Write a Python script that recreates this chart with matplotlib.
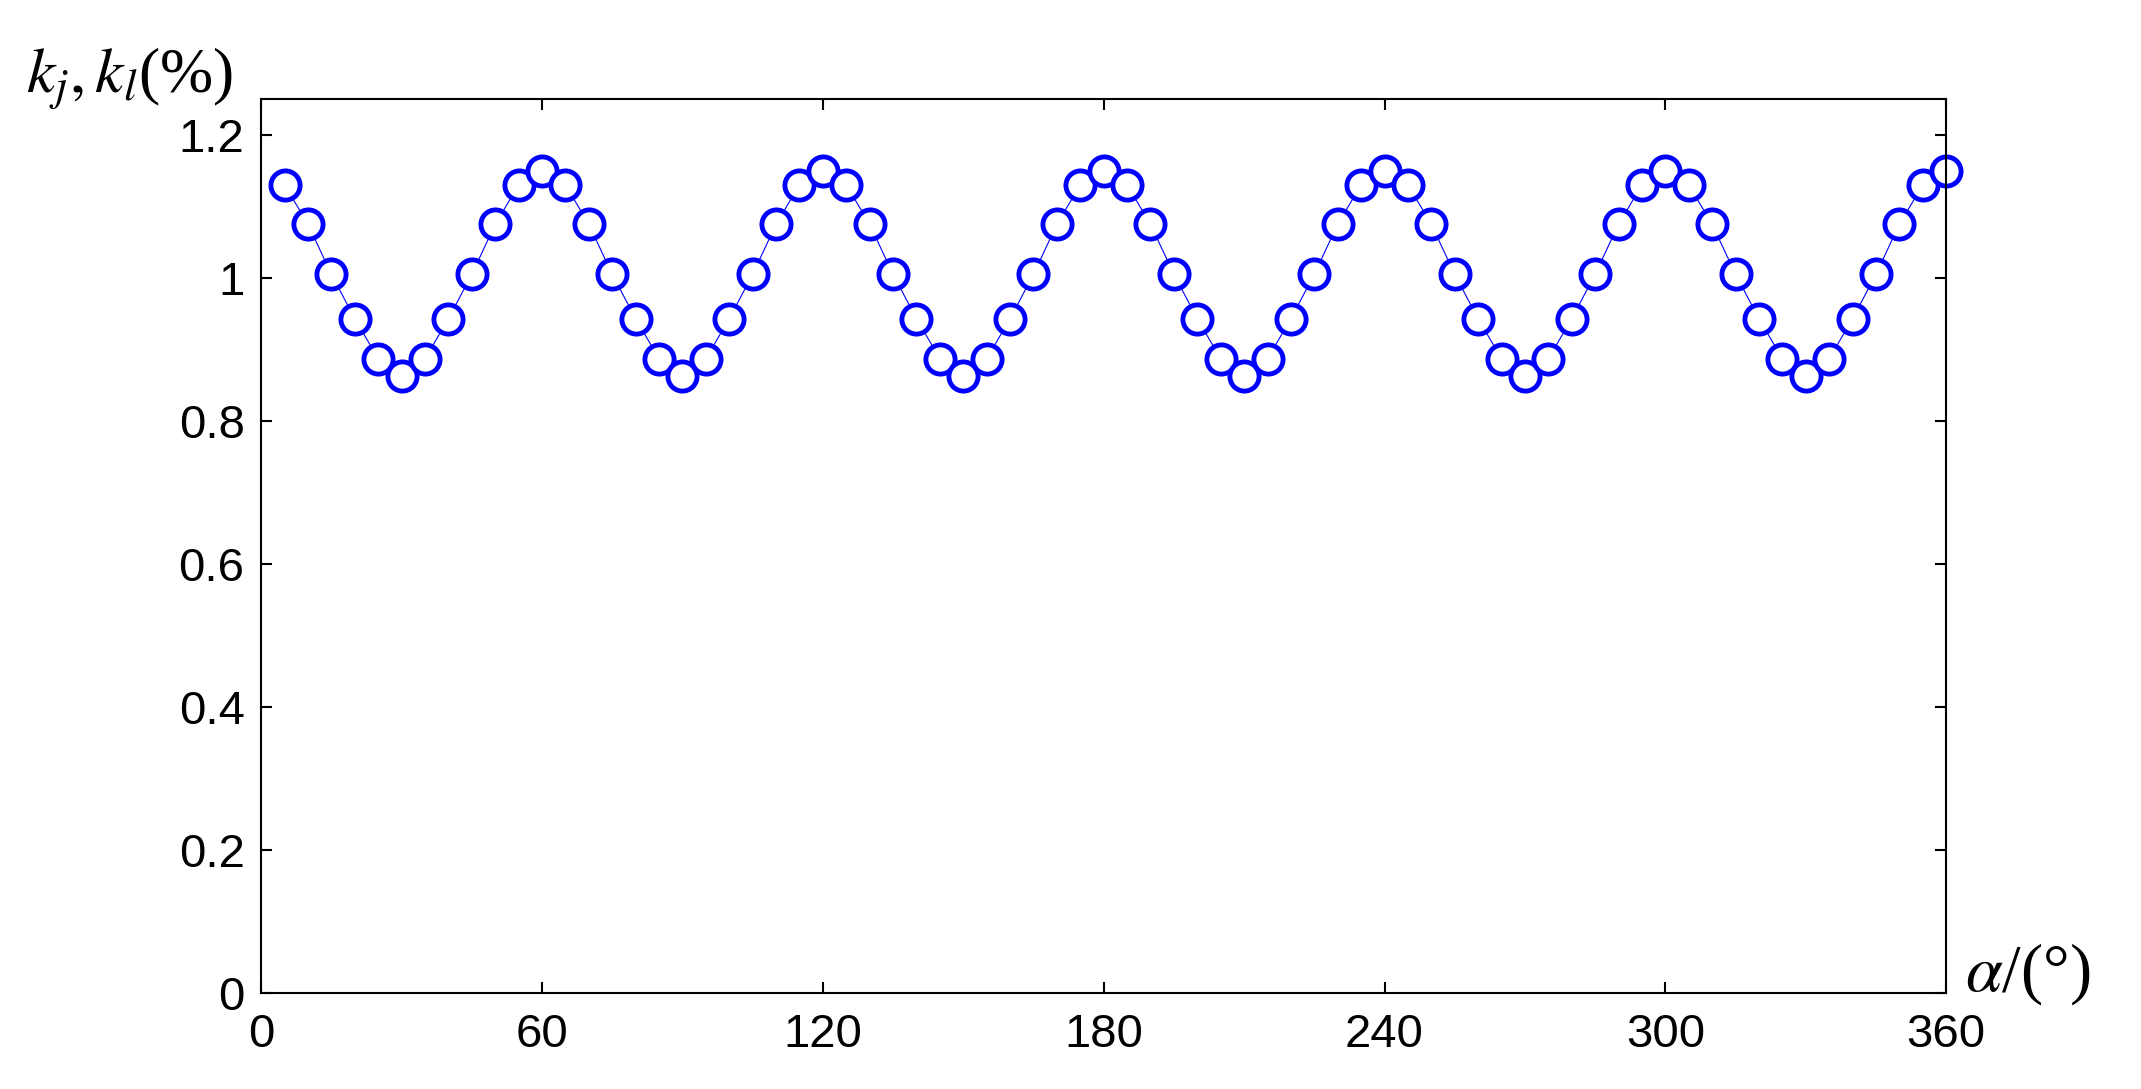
import matplotlib.pyplot as plt

# angle (deg) and coefficient values
alpha = list(range(5, 365, 5))
k_vals = [1.13, 1.075, 1.005, 0.943, 0.887, 0.863, 0.887, 0.943, 1.005, 1.075, 1.13, 1.15,
          1.13, 1.075, 1.005, 0.943, 0.887, 0.863, 0.887, 0.943, 1.005, 1.075, 1.13, 1.15,
          1.13, 1.075, 1.005, 0.943, 0.887, 0.863, 0.887, 0.943, 1.005, 1.075, 1.13, 1.15,
          1.13, 1.075, 1.005, 0.943, 0.887, 0.863, 0.887, 0.943, 1.005, 1.075, 1.13, 1.15,
          1.13, 1.075, 1.005, 0.943, 0.887, 0.863, 0.887, 0.943, 1.005, 1.075, 1.13, 1.15,
          1.13, 1.075, 1.005, 0.943, 0.887, 0.863, 0.887, 0.943, 1.005, 1.075, 1.13, 1.15]
xticks = [0, 60, 120, 180, 240, 300, 360]
yticks = [0, 0.2, 0.4, 0.6, 0.8, 1, 1.2]
yticklabels = ["0", "0.2", "0.4", "0.6", "0.8", "1", "1.2"]

plt.rcParams['font.family'] = ['Liberation Sans', 'DejaVu Sans']
fig = plt.figure(figsize=(21.41, 10.89), dpi=100)
ax = fig.add_axes([0.122, 0.088, 0.787, 0.821])
ax.plot(alpha, k_vals, color="blue", lw=0.8, marker="o", ms=21, mfc="white",
        mec="blue", mew=3.5, clip_on=False)
ax.set_xlim(0, 360)
ax.set_ylim(0, 1.25)
ax.set_xticks(xticks)
ax.set_yticks(yticks)
ax.set_yticklabels(yticklabels)
ax.tick_params(labelsize=34, direction="in", length=8, width=1.5, top=True, right=True)
ax.tick_params(axis="x", pad=14)
ax.tick_params(axis="y", pad=12)
for s in ax.spines.values():
    s.set_linewidth(1.5)

fig.text(0.012, 0.915, r"$k_j,k_l$(%)", fontsize=46, family="Liberation Serif",
         math_fontfamily="stix")
fig.text(0.918, 0.09, r"$\alpha$/(°)", fontsize=48, family="Liberation Serif",
         math_fontfamily="stix")

fig.savefig("out.png")
